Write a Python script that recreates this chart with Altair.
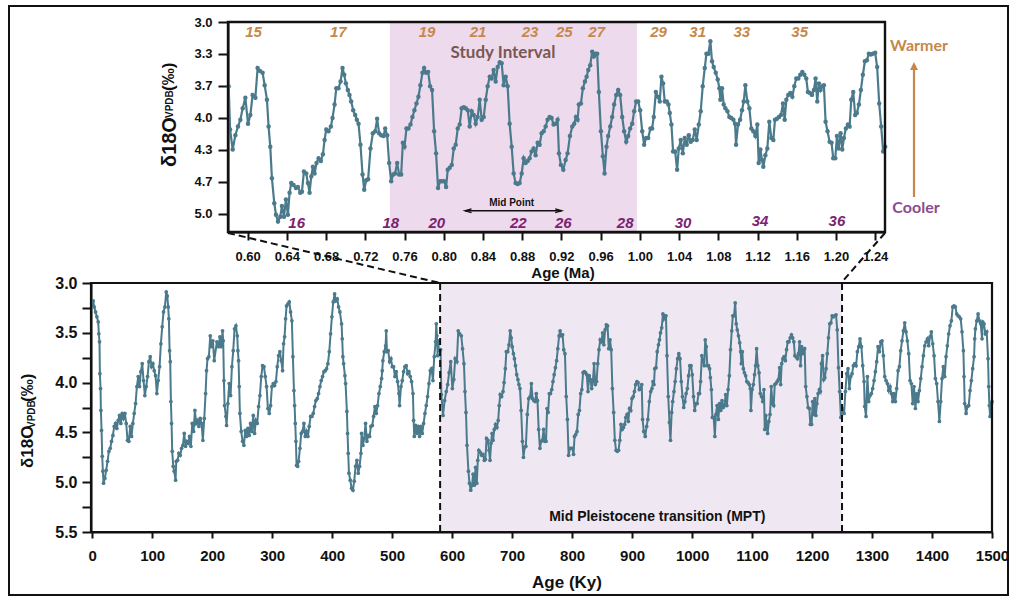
import altair as alt
import pandas as pd

# ---------------------------------------------------------------------------
# Benthic foraminiferal d18O record (age in ky, d18O in permil VPDB)
# ---------------------------------------------------------------------------
SEG_0_205 = [
    (0, 3.23), (1.7, 3.18), (3.3, 3.24), (5.6, 3.29), (7.8, 3.34), (10.0, 3.39), (11.1, 3.51),
    (12.2, 3.59), (12.8, 3.91), (13.9, 4.06), (14.5, 4.28), (15.6, 4.48), (16.7, 4.74), (17.8, 4.89),
    (18.9, 5.01), (21.1, 4.96), (23.3, 4.88), (25.6, 4.79), (27.8, 4.69), (30.0, 4.66), (32.2, 4.59),
    (34.5, 4.53), (36.7, 4.44), (38.9, 4.41), (41.1, 4.46), (43.4, 4.38), (45.6, 4.33), (47.8, 4.41),
    (50.0, 4.31), (52.3, 4.36), (54.5, 4.31), (56.7, 4.41), (58.9, 4.58), (61.1, 4.59), (63.4, 4.44),
    (65.6, 4.54), (67.8, 4.41), (70.0, 4.31), (72.3, 4.21), (74.5, 4.04), (76.7, 3.94), (78.9, 4.04),
    (81.1, 3.89), (83.4, 3.81), (85.6, 3.98), (87.8, 4.13), (90.0, 4.04), (92.3, 3.94), (94.5, 3.79),
    (96.7, 3.74), (98.9, 3.84), (101.2, 3.81), (103.4, 3.88), (105.6, 3.93), (107.8, 4.11), (110.0, 3.98),
    (112.3, 3.84), (114.5, 3.61), (116.7, 3.44), (118.9, 3.29), (121.2, 3.24), (123.4, 3.09), (125.1, 3.13),
    (126.7, 3.24), (127.8, 3.36), (129.0, 3.68), (130.1, 3.79), (131.2, 4.19), (132.3, 4.41), (133.4, 4.69),
    (135.1, 4.84), (136.7, 4.89), (139.0, 4.98), (140.1, 4.79), (142.3, 4.78), (144.5, 4.71), (146.7, 4.73),
    (149.0, 4.66), (151.2, 4.63), (153.4, 4.51), (155.6, 4.64), (157.9, 4.59), (160.1, 4.61), (162.3, 4.54),
    (164.5, 4.64), (166.7, 4.41), (169.0, 4.49), (171.2, 4.28), (173.4, 4.41), (175.6, 4.38), (177.9, 4.44),
    (180.1, 4.36), (182.3, 4.41), (184.5, 4.58), (186.8, 4.36), (189.0, 4.11), (190.6, 3.88), (192.3, 3.76),
    (194.5, 3.74), (196.8, 3.53), (198.9, 3.64), (201.2, 3.58), (203.4, 3.78),
]

SEG_205_415 = [
    (207.9, 3.59), (210.7, 3.64), (212.9, 3.54), (215.1, 3.64), (217.3, 3.48), (218.4, 3.58), (219.6, 3.98),
    (220.7, 4.23), (222.9, 4.34), (224.0, 4.43), (226.2, 4.21), (228.4, 4.01), (230.7, 4.13), (232.9, 3.84),
    (235.1, 3.68), (237.3, 3.46), (239.6, 3.43), (241.8, 3.53), (242.9, 3.68), (244.0, 3.78), (245.1, 4.04),
    (246.2, 4.31), (248.4, 4.49), (250.7, 4.59), (252.9, 4.63), (255.1, 4.48), (257.3, 4.54), (259.6, 4.46),
    (261.8, 4.53), (264.0, 4.41), (266.2, 4.49), (268.5, 4.33), (270.7, 4.51), (272.9, 4.38), (275.1, 4.41),
    (277.4, 4.24), (279.6, 4.13), (281.8, 3.94), (284.0, 3.83), (286.3, 3.84), (288.5, 3.94), (290.7, 4.04),
    (292.9, 4.26), (295.1, 4.31), (297.4, 4.23), (299.6, 4.04), (301.8, 4.01), (304.0, 4.03), (306.3, 3.99),
    (308.5, 3.84), (310.7, 3.73), (312.9, 3.69), (315.1, 3.78), (317.4, 3.88), (319.0, 3.61), (320.7, 3.54),
    (322.4, 3.36), (324.0, 3.23), (326.3, 3.21), (328.5, 3.19), (330.7, 3.29), (332.9, 3.38), (334.6, 3.74),
    (336.3, 4.08), (337.4, 4.23), (338.5, 4.41), (339.6, 4.59), (340.7, 4.83), (342.4, 4.84), (344.1, 4.79),
    (346.3, 4.66), (348.5, 4.51), (350.7, 4.49), (352.9, 4.41), (355.2, 4.54), (357.4, 4.49), (359.6, 4.54),
    (361.8, 4.44), (364.1, 4.34), (366.3, 4.34), (368.5, 4.31), (370.7, 4.24), (372.9, 4.18), (375.2, 4.16),
    (377.4, 4.11), (379.6, 4.04), (381.8, 3.98), (384.0, 3.94), (386.3, 3.89), (388.5, 3.88), (390.7, 3.86),
    (392.9, 3.81), (395.2, 3.69), (397.4, 3.51), (399.6, 3.34), (401.8, 3.19), (404.1, 3.11), (406.3, 3.18),
    (408.5, 3.16), (410.7, 3.24), (412.9, 3.29),
]

SEG_415_580 = [
    (415.7, 3.41), (416.8, 3.56), (417.9, 3.74), (419.1, 3.81), (421.3, 3.93), (422.4, 4.01), (424.6, 4.29),
    (425.7, 4.51), (426.8, 4.71), (428.0, 4.91), (430.2, 4.98), (432.4, 5.06), (434.6, 5.08), (436.8, 4.99),
    (439.1, 4.84), (441.3, 4.78), (443.5, 4.91), (445.7, 4.84), (448.0, 4.71), (449.1, 4.51), (451.3, 4.63),
    (453.5, 4.56), (455.7, 4.41), (458.0, 4.59), (460.2, 4.53), (462.4, 4.54), (464.6, 4.44), (466.9, 4.43),
    (469.1, 4.34), (471.3, 4.24), (473.5, 4.31), (475.7, 4.23), (478.0, 4.11), (480.2, 4.04), (482.4, 3.96),
    (483.5, 3.88), (484.6, 3.78), (486.9, 3.69), (489.1, 3.63), (490.2, 3.48), (491.3, 3.69), (493.5, 3.68),
    (495.8, 3.79), (498.0, 3.76), (500.2, 3.84), (502.4, 3.84), (504.7, 3.94), (506.9, 3.89), (509.1, 3.99),
    (511.3, 4.11), (512.4, 4.23), (514.7, 4.04), (516.9, 3.98), (519.1, 3.89), (521.3, 3.84), (523.5, 3.83),
    (525.8, 3.91), (528.0, 3.89), (530.2, 3.94), (532.4, 3.99), (534.7, 4.11), (535.8, 4.38), (536.9, 4.54),
    (539.1, 4.43), (541.3, 4.51), (543.6, 4.44), (545.8, 4.54), (548.0, 4.44), (550.2, 4.51), (552.5, 4.41),
    (554.7, 4.31), (556.9, 4.23), (559.1, 4.14), (561.4, 4.01), (563.6, 3.88), (565.8, 3.86), (568.0, 3.98),
    (570.2, 3.74), (572.5, 3.59), (573.6, 3.41), (574.7, 3.53), (575.8, 3.73), (576.9, 3.58), (578.0, 3.68),
]

SEG_580_920 = [
    (580.7, 3.67), (582.1, 4.12), (584.8, 4.33), (587.5, 4.18), (590.2, 4.09), (592.6, 4.02), (595.0, 3.90),
    (597.7, 3.79), (600.4, 4.06), (602.8, 3.97), (605.1, 3.76), (607.9, 3.79), (610.2, 3.48), (612.6, 3.51),
    (615.3, 3.53), (617.4, 3.66), (619.7, 3.81), (621.4, 4.09), (623.1, 4.30), (624.8, 4.63), (627.2, 4.89),
    (628.9, 5.01), (631.0, 5.08), (633.3, 5.03), (635.0, 4.92), (637.1, 5.03), (639.1, 4.85), (641.1, 5.01),
    (642.8, 4.78), (644.5, 4.68), (646.9, 4.70), (649.3, 4.73), (651.3, 4.72), (653.7, 4.78), (655.4, 4.77),
    (657.4, 4.56), (659.8, 4.58), (661.5, 4.68), (663.2, 4.78), (664.9, 4.61), (666.6, 4.51), (668.3, 4.58),
    (670.3, 4.47), (672.4, 4.42), (674.7, 4.45), (676.8, 4.38), (678.5, 4.23), (680.2, 4.12), (682.5, 4.14),
    (684.9, 4.09), (686.6, 4.00), (688.7, 3.86), (690.4, 3.69), (692.7, 3.69), (694.8, 3.62), (696.8, 3.48),
    (698.5, 3.55), (700.2, 3.64), (702.2, 3.71), (703.9, 3.76), (705.6, 3.83), (707.7, 3.92), (709.7, 3.97),
    (711.4, 4.02), (713.1, 4.06), (715.1, 4.28), (717.2, 4.59), (718.9, 4.75), (720.9, 4.65), (722.9, 4.64),
    (725.3, 4.32), (727.7, 4.16), (730.1, 4.14), (732.1, 4.01), (734.1, 4.16), (736.2, 4.18), (738.6, 4.19),
    (740.3, 4.11), (742.3, 4.18), (744.3, 4.47), (746.4, 4.66), (748.4, 4.59), (750.4, 4.58), (752.5, 4.47),
    (754.5, 4.59), (756.6, 4.59), (758.3, 4.26), (760.0, 4.30), (762.0, 4.11), (764.0, 4.11), (766.1, 4.07),
    (768.1, 3.99), (770.1, 3.92), (772.2, 3.85), (774.2, 3.78), (776.2, 3.66), (778.3, 3.53), (780.0, 3.48),
    (782.0, 3.53), (784.1, 3.52), (786.1, 3.67), (788.1, 3.71), (790.2, 4.14), (792.2, 4.37), (794.2, 4.73),
    (796.3, 4.66), (798.3, 4.66), (800.4, 4.66), (802.4, 4.72), (804.1, 4.54), (806.1, 4.52), (808.2, 4.49),
    (810.2, 4.32), (812.2, 4.28), (814.3, 4.11), (816.3, 4.07), (818.3, 3.90), (820.4, 3.89), (822.4, 3.90),
    (824.5, 3.92), (826.5, 4.09), (828.5, 3.93), (830.6, 3.97), (832.6, 4.06), (834.6, 3.99), (836.7, 3.81),
    (838.7, 4.02), (840.8, 3.99), (842.8, 3.81), (844.8, 3.67), (846.9, 3.57), (848.9, 3.59), (850.9, 3.50),
    (853.0, 3.62), (855.0, 3.47), (857.1, 3.42), (859.1, 3.43), (861.1, 3.66), (863.2, 3.57), (865.2, 3.67),
    (867.2, 4.06), (869.3, 4.30), (871.3, 4.58), (873.3, 4.68), (875.4, 4.69), (877.4, 4.68), (879.5, 4.58),
    (881.5, 4.42), (883.5, 4.47), (885.6, 4.45), (887.6, 4.42), (889.6, 4.35), (891.7, 4.32), (893.7, 4.39),
    (895.8, 4.26), (897.8, 4.28), (899.8, 4.16), (901.9, 4.14), (903.9, 4.09), (905.9, 4.02), (908.0, 3.99),
    (910.0, 4.00), (912.0, 4.07), (914.1, 4.06), (916.1, 4.02), (917.5, 4.37), (919.5, 4.49),
]

SEG_920_1250 = [
    (921.9, 4.54), (924.3, 4.44), (926.3, 4.37), (928.7, 4.19), (931.1, 4.09), (933.1, 4.06), (934.8, 3.99),
    (936.5, 4.02), (937.8, 3.86), (939.9, 3.85), (941.9, 3.69), (944.0, 3.62), (945.7, 3.57), (947.4, 3.50),
    (949.4, 3.45), (951.4, 3.31), (953.1, 3.36), (954.8, 3.33), (956.5, 3.33), (958.2, 3.73), (960.3, 4.14),
    (962.3, 4.40), (964.0, 4.58), (966.0, 4.30), (967.7, 4.19), (969.8, 4.09), (971.8, 3.99), (973.8, 3.86),
    (975.9, 3.76), (977.9, 3.71), (979.9, 3.76), (982.0, 3.99), (984.0, 4.14), (986.1, 4.25), (988.1, 4.19),
    (990.1, 4.11), (992.2, 4.06), (994.2, 3.93), (996.2, 3.83), (998.3, 3.83), (1000.3, 3.92), (1002.4, 4.14),
    (1004.4, 4.28), (1006.4, 4.21), (1008.5, 4.21), (1010.8, 4.11), (1012.5, 4.11), (1014.2, 3.99),
    (1016.3, 3.73), (1018.3, 3.78), (1020.3, 3.83), (1022.0, 3.57), (1023.7, 3.64), (1025.4, 3.83),
    (1027.5, 3.83), (1029.2, 3.86), (1030.5, 3.95), (1032.2, 4.07), (1033.9, 4.35), (1036.0, 4.35),
    (1038.0, 4.54), (1039.7, 4.32), (1041.7, 4.23), (1043.8, 4.37), (1045.8, 4.21), (1047.8, 4.28),
    (1049.9, 4.18), (1051.9, 4.25), (1053.9, 4.23), (1056.0, 4.12), (1058.0, 4.23), (1060.1, 4.07),
    (1062.1, 3.93), (1064.1, 3.67), (1066.2, 3.48), (1067.9, 3.33), (1069.9, 3.33), (1071.9, 3.20),
    (1073.6, 3.41), (1075.3, 3.47), (1077.4, 3.53), (1079.4, 3.60), (1081.1, 3.69), (1082.1, 3.81),
    (1083.8, 3.69), (1085.5, 3.86), (1087.2, 3.90), (1089.3, 3.93), (1091.3, 3.99), (1093.3, 4.00),
    (1095.4, 4.02), (1097.1, 4.06), (1098.1, 4.28), (1100.1, 4.07), (1102.2, 4.02), (1104.2, 3.92),
    (1105.9, 3.83), (1107.6, 3.66), (1109.6, 3.83), (1111.7, 3.90), (1113.7, 4.11), (1115.7, 4.14),
    (1117.8, 4.19), (1119.8, 4.07), (1121.2, 4.47), (1122.9, 4.33), (1124.6, 4.44), (1125.9, 4.51),
    (1128.0, 4.39), (1130.0, 4.32), (1132.0, 4.04), (1134.1, 4.21), (1136.1, 4.23), (1137.8, 4.02),
    (1139.8, 4.01), (1141.9, 3.99), (1143.9, 3.97), (1146.0, 3.85), (1147.7, 4.02), (1149.4, 3.81),
    (1151.4, 3.76), (1153.4, 3.74), (1155.5, 3.78), (1157.5, 3.67), (1159.5, 3.59), (1161.6, 3.59),
    (1163.6, 3.55), (1165.7, 3.52), (1167.7, 3.55), (1169.7, 3.59), (1171.4, 3.73), (1173.5, 3.74),
    (1175.5, 3.76), (1177.5, 3.71), (1179.2, 3.59), (1180.9, 3.83), (1182.6, 3.64), (1184.3, 3.71),
    (1186.0, 3.67), (1187.7, 3.66), (1189.4, 4.04), (1191.4, 4.14), (1193.5, 4.25), (1195.5, 4.26),
    (1197.2, 4.42), (1199.3, 4.42), (1201.0, 4.19), (1202.7, 4.32), (1204.7, 4.16), (1206.4, 4.33),
    (1208.1, 4.21), (1210.1, 4.11), (1212.2, 4.07), (1213.9, 4.09), (1215.6, 3.81), (1217.6, 3.73),
    (1219.6, 3.97), (1221.3, 3.95), (1223.4, 3.86), (1225.4, 3.71), (1227.4, 3.55), (1229.5, 3.41),
    (1231.5, 3.40), (1233.5, 3.33), (1235.6, 3.34), (1237.6, 3.33), (1240.0, 3.32), (1242.0, 3.47),
    (1244.1, 3.85), (1246.1, 4.09), (1248.1, 4.35), (1250.2, 4.30),
]

SEG_1250_1500 = [
    (1251.1, 4.26), (1253.4, 4.31), (1255.6, 4.09), (1257.8, 3.91), (1260.0, 3.86), (1262.2, 4.06),
    (1264.5, 3.94), (1266.7, 3.91), (1268.9, 3.83), (1271.1, 3.81), (1273.4, 3.83), (1275.6, 3.69),
    (1277.8, 3.64), (1280.0, 3.56), (1282.3, 3.64), (1284.5, 3.83), (1286.7, 3.99), (1287.8, 4.24),
    (1290.0, 4.34), (1292.3, 3.94), (1294.5, 4.19), (1296.7, 4.13), (1298.9, 4.11), (1301.1, 4.06),
    (1303.4, 3.98), (1305.6, 3.89), (1307.8, 3.79), (1310.0, 3.64), (1312.3, 3.69), (1314.5, 3.59),
    (1316.7, 3.58), (1318.9, 3.73), (1321.2, 3.94), (1323.4, 3.98), (1325.6, 4.01), (1327.8, 4.08),
    (1330.0, 4.04), (1332.3, 4.11), (1334.5, 4.19), (1336.7, 4.11), (1338.9, 4.19), (1341.1, 4.06),
    (1343.4, 3.88), (1345.6, 3.84), (1347.8, 3.68), (1350.0, 3.58), (1352.3, 3.48), (1354.5, 3.40),
    (1356.7, 3.49), (1358.9, 3.58), (1361.2, 3.71), (1363.4, 3.98), (1365.6, 4.01), (1367.8, 4.21),
    (1370.0, 4.04), (1372.3, 4.26), (1374.5, 4.11), (1376.7, 4.19), (1378.9, 4.08), (1381.2, 3.96),
    (1383.4, 3.84), (1385.6, 3.73), (1387.8, 3.63), (1390.1, 3.59), (1392.3, 3.56), (1394.5, 3.63),
    (1396.7, 3.54), (1398.9, 3.49), (1401.2, 3.61), (1403.4, 3.73), (1405.6, 3.96), (1407.8, 4.01),
    (1410.0, 4.19), (1412.3, 4.39), (1414.5, 4.19), (1416.7, 3.96), (1418.9, 3.84), (1421.2, 3.94),
    (1423.4, 3.74), (1425.6, 3.63), (1427.8, 3.51), (1430.0, 3.43), (1432.3, 3.38), (1434.5, 3.24),
    (1436.7, 3.23), (1438.9, 3.24), (1441.2, 3.31), (1443.4, 3.33), (1445.6, 3.34), (1447.8, 3.36),
    (1450.0, 3.49), (1452.3, 3.68), (1453.4, 3.94), (1454.5, 4.21), (1456.8, 4.31), (1459.0, 4.24),
    (1461.2, 4.23), (1463.4, 4.08), (1465.6, 3.98), (1467.8, 3.86), (1470.1, 3.74), (1471.2, 3.56),
    (1472.3, 3.46), (1474.5, 3.38), (1476.8, 3.31), (1479.0, 3.38), (1481.2, 3.41), (1483.4, 3.56),
    (1484.5, 3.39), (1486.7, 3.41), (1488.9, 3.51), (1491.2, 3.49), (1493.4, 3.76), (1494.5, 4.04),
    (1495.6, 4.23), (1496.8, 4.34), (1499.0, 4.21), (1500.0, 4.19),
]

# Marine isotope stage labels (age in Ma, d18O position)
WARM_STAGES = ["15", "17", "19", "21", "23", "25", "27", "29", "31", "33", "35"]
WARM_AGE_MA = [0.606, 0.6925, 0.783, 0.835, 0.888, 0.923, 0.956, 1.019, 1.059, 1.104, 1.163]
COLD_STAGES = ["16", "18", "20", "22", "26", "28", "30", "34", "36"]
COLD_AGE_MA = [0.650, 0.746, 0.793, 0.876, 0.922, 0.985, 1.044, 1.1225, 1.201]
COLD_LEVEL = [5.10, 5.10, 5.10, 5.10, 5.10, 5.10, 5.10, 5.08, 5.08]

STUDY_INTERVAL_MA = (0.745, 0.997)
MPT_KY = (580, 1250)
MID_POINT_MA = (0.8217, 0.9203)

TOP_X_TICKS = [0.60, 0.64, 0.68, 0.72, 0.76, 0.80, 0.84, 0.88, 0.92, 0.96, 1.00,
               1.04, 1.08, 1.12, 1.16, 1.20, 1.24]
TOP_Y_TICKS = [3.0, 10 / 3, 11 / 3, 4.0, 13 / 3, 14 / 3, 5.0]
BOT_X_TICKS = list(range(0, 1501, 100))
BOT_Y_TICKS = [3.0, 3.25, 3.5, 3.75, 4.0, 4.25, 4.5, 4.75, 5.0, 5.25, 5.5]

# ---------------------------------------------------------------------------
LINE = "#4B7A8C"
ORANGE = "#C6884A"
PURPLE = "#7B2371"
COOL = "#8C4B8E"
STUDY_FILL = "#EEDAED"
MPT_FILL = "#EFE7F1"
INK = "#111111"
AXFONT = "Liberation Sans"

W, H = 1010, 597

records = SEG_0_205 + SEG_205_415 + SEG_415_580 + SEG_580_920 + SEG_920_1250 + SEG_1250_1500
df = pd.DataFrame(records, columns=["age_ky", "d18o"])
df["age_ma"] = df["age_ky"] / 1000.0
zoom_df = df[(df["age_ky"] >= 580) & (df["age_ky"] <= 1250.5)].reset_index(drop=True)

# Each panel gets its own pixel range inside a single full-page view
tx = alt.Scale(domain=[0.58, 1.25], range=[228, 885], nice=False, zero=False)
ty = alt.Scale(domain=[3.0, 5.19], range=[22, 232], nice=False, zero=False)
bx = alt.Scale(domain=[-2, 1500], range=[91, 992], nice=False, zero=False)
by = alt.Scale(domain=[3.0, 5.5], range=[283, 532], nice=False, zero=False)

axis_common = dict(grid=False, title=None, labelFont=AXFONT, labelFontWeight="bold",
                   labelColor=INK, tickColor=INK, domainColor=INK, tickWidth=2,
                   domainWidth=2, labelOverlap=False, labelBound=False)

# the same axis objects are given to every layer of a panel so they merge cleanly
TXA = alt.Axis(orient="bottom", offset=-(H - 232), values=TOP_X_TICKS, format=".2f",
               labelFontSize=13, tickSize=8, labelPadding=10, labelFlush=False, **axis_common)
TYA = alt.Axis(orient="left", offset=-228, values=TOP_Y_TICKS, format=".1f",
               labelFontSize=13, tickSize=10, labelPadding=6, **axis_common)
BXA = alt.Axis(orient="bottom", offset=-(H - 532), values=BOT_X_TICKS, format="d",
               labelFontSize=15, tickSize=6, labelPadding=10, labelFlush=False, **axis_common)
BYA = alt.Axis(orient="left", offset=-91, values=BOT_Y_TICKS,
               labelExpr="datum.value % 0.5 == 0 ? format(datum.value, '.1f') : ''",
               labelFontSize=16, tickSize=9, labelPadding=5, **axis_common)


def TX(f):
    return alt.X(f, scale=tx, axis=TXA)


def TY(f):
    return alt.Y(f, scale=ty, axis=TYA)


def BX(f):
    return alt.X(f, scale=bx, axis=BXA)


def BY(f):
    return alt.Y(f, scale=by, axis=BYA)


def one(**kw):
    return pd.DataFrame({k: [v] for k, v in kw.items()}) if kw else pd.DataFrame({"k": [0]})


def ptext(text, x, y, size, color=INK, weight="bold", font=AXFONT, angle=0,
          align="center", baseline="middle", style="normal"):
    return alt.Chart(one(t=text)).mark_text(
        fontSize=size, fontWeight=weight, font=font, color=color, angle=angle,
        align=align, baseline=baseline, fontStyle=style,
    ).encode(x=alt.value(x), y=alt.value(y), text="t:N")


def prule(x, y, x2, y2, color=INK, width=2, dash=None):
    kw = dict(color=color, strokeWidth=width)
    if dash:
        kw["strokeDash"] = dash
    return alt.Chart(one()).mark_rule(**kw).encode(
        x=alt.value(x), y=alt.value(y), x2=alt.value(x2), y2=alt.value(y2))


def pframe(x, y, x2, y2, width=2.2):
    return alt.Chart(one()).mark_rect(filled=False, stroke=INK, strokeWidth=width).encode(
        x=alt.value(x), y=alt.value(y), x2=alt.value(x2), y2=alt.value(y2))


# ----------------------------- zoomed panel --------------------------------
study = alt.Chart(one(s=STUDY_INTERVAL_MA[0], e=STUDY_INTERVAL_MA[1], lo=3.0, hi=5.19)).mark_rect(
    color=STUDY_FILL).encode(x=TX("s:Q"), x2="e:Q", y=TY("lo:Q"), y2="hi:Q")

top_line = alt.Chart(zoom_df).mark_line(color=LINE, strokeWidth=2.2).encode(
    x=TX("age_ma:Q"), y=TY("d18o:Q"))
top_pts = alt.Chart(zoom_df).mark_circle(color=LINE, size=20, opacity=1).encode(
    x=TX("age_ma:Q"), y=TY("d18o:Q"))

warm_df = pd.DataFrame({"age": WARM_AGE_MA, "lbl": WARM_STAGES, "lev": [3.107] * len(WARM_STAGES)})
cold_df = pd.DataFrame({"age": COLD_AGE_MA, "lbl": COLD_STAGES, "lev": COLD_LEVEL})
warm_txt = alt.Chart(warm_df).mark_text(
    font=AXFONT, fontSize=15, fontWeight="bold", fontStyle="italic", color=ORANGE).encode(
    x=TX("age:Q"), y=TY("lev:Q"), text="lbl:N")
cold_txt = alt.Chart(cold_df).mark_text(
    font=AXFONT, fontSize=15, fontWeight="bold", fontStyle="italic", color=PURPLE).encode(
    x=TX("age:Q"), y=TY("lev:Q"), text="lbl:N")

study_lbl = alt.Chart(one(a=0.8604, v=3.32, t="Study Interval")).mark_text(
    font="Lato", fontSize=17, fontWeight="bold", color="#7C5750").encode(
    x=TX("a:Q"), y=TY("v:Q"), text="t:N")

mid_rule = alt.Chart(one(a=MID_POINT_MA[0], b=MID_POINT_MA[1], v=4.969)).mark_rule(
    color=INK, strokeWidth=1.4).encode(x=TX("a:Q"), x2="b:Q", y=TY("v:Q"))
mid_heads = alt.Chart(pd.DataFrame({
    "a": list(MID_POINT_MA), "v": [4.969, 4.969],
    "shp": ["M2.6,-0.75L0,0L2.6,0.75", "M-2.6,-0.75L0,0L-2.6,0.75"]})).mark_point(
    filled=False, color=INK, strokeWidth=1.4, size=25, opacity=1).encode(
    x=TX("a:Q"), y=TY("v:Q"), shape=alt.Shape("shp:N", scale=None, legend=None))
mid_lbl = alt.Chart(one(a=0.8693, v=4.885, t="Mid Point")).mark_text(
    font=AXFONT, fontSize=10, fontWeight="bold", color=INK).encode(
    x=TX("a:Q"), y=TY("v:Q"), text="t:N")

top_panel = alt.layer(study, top_line, top_pts, warm_txt, cold_txt, study_lbl,
                      mid_rule, mid_heads, mid_lbl)

# ------------------------------ full record --------------------------------
mpt = alt.Chart(one(s=MPT_KY[0], e=MPT_KY[1], lo=3.0, hi=5.5)).mark_rect(color=MPT_FILL).encode(
    x=BX("s:Q"), x2="e:Q", y=BY("lo:Q"), y2="hi:Q")

bot_line = alt.Chart(df).mark_line(color=LINE, strokeWidth=2).encode(
    x=BX("age_ky:Q"), y=BY("d18o:Q"))
bot_pts = alt.Chart(df).mark_circle(color=LINE, size=14, opacity=1).encode(
    x=BX("age_ky:Q"), y=BY("d18o:Q"))

mpt_edges = alt.Chart(pd.DataFrame({"age": list(MPT_KY), "lo": [3.0, 3.0], "hi": [5.5, 5.5]})).mark_rule(
    color=INK, strokeWidth=2, strokeDash=[7, 4]).encode(
    x=BX("age:Q"), y=BY("lo:Q"), y2="hi:Q")

mpt_lbl = alt.Chart(one(a=942, v=5.35, t="Mid Pleistocene transition (MPT)")).mark_text(
    font=AXFONT, fontSize=14, fontWeight="bold", color=INK).encode(
    x=BX("a:Q"), y=BY("v:Q"), text="t:N")

bot_panel = alt.layer(mpt, bot_line, bot_pts, mpt_edges, mpt_lbl)

# ----------------------------- page furniture ------------------------------
deco = alt.layer(
    pframe(9, 6, 1008, 595, width=2),
    pframe(228, 22, 885, 232, width=2.4),
    pframe(91, 283, 992, 532, width=2.2),
    prule(228, 233, 440, 283, dash=[7, 4]),
    prule(885, 233, 841, 283, dash=[7, 4]),
    # zoom panel axis titles
    ptext("δ18O", 176, 167, 20, angle=270, align="left", baseline="alphabetic"),
    ptext("VPDB", 173, 118, 10, angle=270, align="left", baseline="alphabetic"),
    ptext("(‰)", 174, 91, 17, angle=270, align="left", baseline="alphabetic"),
    ptext("Age (Ma)", 563, 278, 15, baseline="alphabetic"),
    # full record axis titles
    ptext("δ18O", 33, 468, 17, angle=270, align="left", baseline="alphabetic"),
    ptext("VPDB", 35, 428, 10, angle=270, align="left", baseline="alphabetic"),
    ptext("(‰)", 33, 402, 17, angle=270, align="left", baseline="alphabetic"),
    ptext("Age (Ky)", 567, 583, 17),
    # warmer / cooler arrow
    prule(914, 197, 914, 68, color=ORANGE, width=2.2),
    alt.Chart(one()).mark_point(shape="M0,-1.5L1,0.5L-1,0.5Z", filled=True, color=ORANGE,
                                size=64, opacity=1).encode(x=alt.value(914), y=alt.value(68)),
    ptext("Warmer", 919, 46, 16, color=ORANGE, font="Lato"),
    ptext("Cooler", 916, 208, 16, color=COOL, font="Lato"),
)

chart = alt.layer(top_panel, bot_panel, deco).resolve_scale(
    x="independent", y="independent").resolve_axis(
    x="independent", y="independent").properties(
    width=W, height=H, autosize=alt.AutoSizeParams(type="none"), padding=0,
    background="white").configure_view(stroke=None)

chart.save("out.html", embed_options={"renderer": "svg", "actions": False})
